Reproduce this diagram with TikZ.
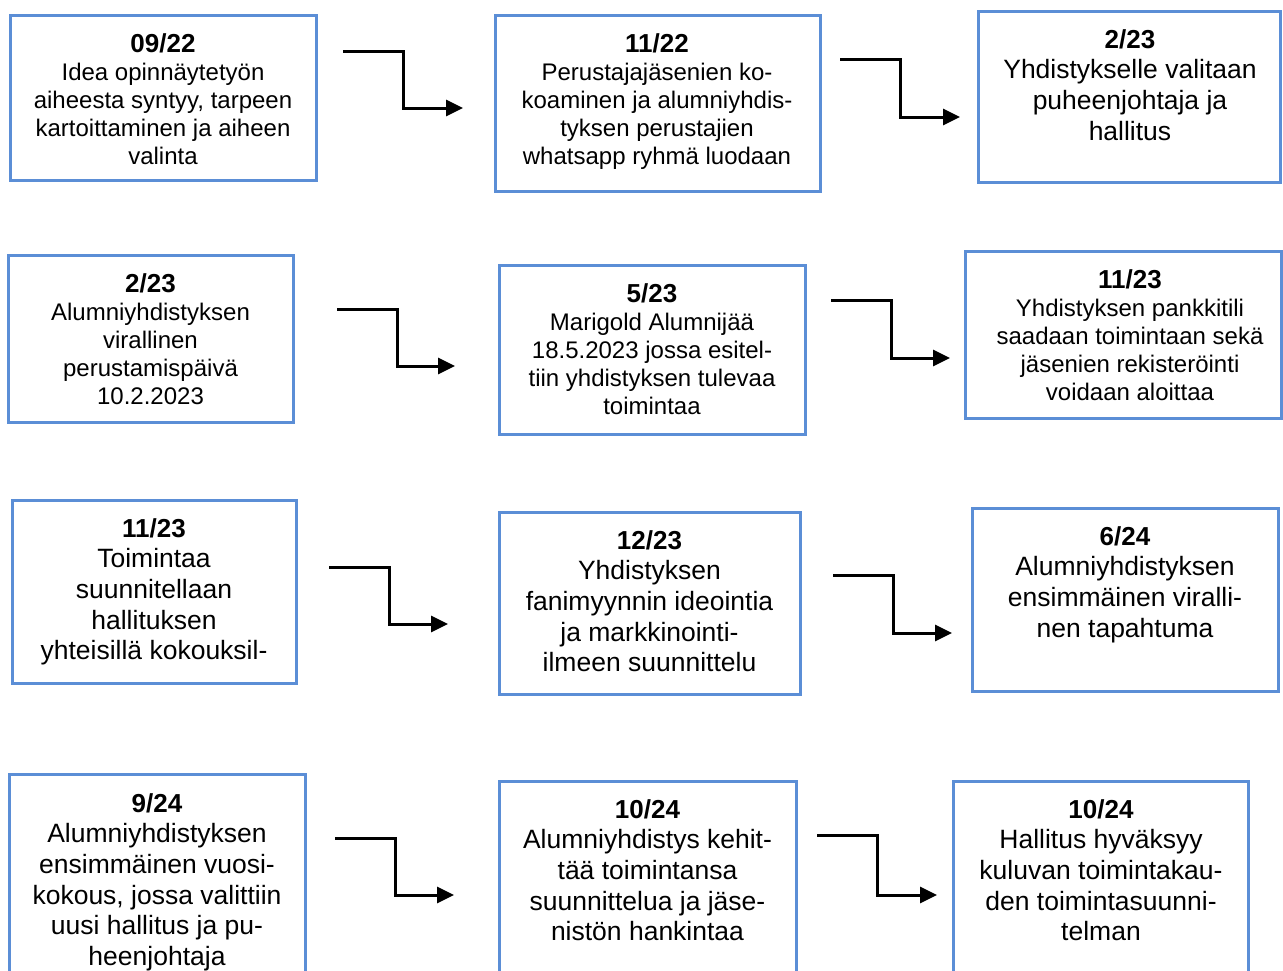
\documentclass[tikz,border=0pt]{standalone}
\usepackage{fontspec}
\setmainfont{Liberation Sans}
\usetikzlibrary{arrows.meta}
\definecolor{boxblue}{RGB}{91,142,214}
\newcommand\smallbody{\fontsize{24}{28}\selectfont}
\newcommand\bigbody{\fontsize{26.5}{30.7}\selectfont}
\newcommand\ttl[1]{{\fontsize{26}{28}\selectfont\bfseries #1}}
\begin{document}
\begin{tikzpicture}[x=1pt,y=-1pt,
  stagebox/.style={draw=boxblue,line width=3pt,fill=white,inner sep=0pt},
  stagetext/.style={anchor=north,align=center,inner sep=0pt},
  smalltext/.style={stagetext,font=\smallbody},
  bigtext/.style={stagetext,font=\bigbody},
  conn/.style={draw=black,line width=3pt,-{Triangle[length=17pt,width=16pt]}}]
\useasboundingbox (0,0) rectangle (1283,970);
\clip (0,0) rectangle (1283,970);
% boxes
\node[stagebox,minimum width=306pt,minimum height=165pt] (b1) at (163,97.5) {};
\node[stagebox,minimum width=325pt,minimum height=176pt] (b2) at (657.5,103) {};
\node[stagebox,minimum width=302pt,minimum height=171pt] (b3) at (1129,96.5) {};
\node[stagebox,minimum width=285pt,minimum height=167pt] (b4) at (150.5,338.5) {};
\node[stagebox,minimum width=306pt,minimum height=169pt] (b5) at (652,349.5) {};
\node[stagebox,minimum width=316pt,minimum height=167pt] (b6) at (1123,334.5) {};
\node[stagebox,minimum width=284pt,minimum height=183pt] (b7) at (154,591.5) {};
\node[stagebox,minimum width=301pt,minimum height=182pt] (b8) at (649.5,603) {};
\node[stagebox,minimum width=306pt,minimum height=183pt] (b9) at (1125,599.5) {};
\node[stagebox,minimum width=296pt,minimum height=226pt] (b10) at (157,887) {};
\node[stagebox,minimum width=297pt,minimum height=219pt] (b11) at (647.5,890.5) {};
\node[stagebox,minimum width=295pt,minimum height=219pt] (b12) at (1100.5,890.5) {};
% texts
\node[smalltext] (t1) at (163,33) {\ttl{09/22}\\Idea opinnäytetyön\\aiheesta syntyy, tarpeen\\kartoittaminen ja aiheen\\valinta};
\node[smalltext] (t2) at (657,33) {\ttl{11/22}\\Perustajajäsenien ko-\\koaminen ja alumniyhdis-\\tyksen perustajien\\whatsapp ryhmä luodaan};
\node[bigtext] (t3) at (1130,29) {\ttl{2/23}\\Yhdistykselle valitaan\\puheenjohtaja ja\\hallitus};
\node[smalltext] (t4) at (150.5,273) {\ttl{2/23}\\Alumniyhdistyksen\\virallinen\\perustamispäivä\\10.2.2023};
\node[smalltext] (t5) at (652,283) {\ttl{5/23}\\Marigold Alumnijää\\18.5.2023 jossa esitel-\\tiin yhdistyksen tulevaa\\toimintaa};
\node[smalltext] (t6) at (1130,269) {\ttl{11/23}\\Yhdistyksen pankkitili\\saadaan toimintaan sekä\\jäsenien rekisteröinti\\voidaan aloittaa};
\node[bigtext] (t7) at (154,518) {\ttl{11/23}\\Toimintaa\\suunnitellaan\\hallituksen\\yhteisillä kokouksil-};
\node[bigtext] (t8) at (649.5,530) {\ttl{12/23}\\Yhdistyksen\\fanimyynnin ideointia\\ja markkinointi-\\ilmeen suunnittelu};
\node[bigtext] (t9) at (1125,526) {\ttl{6/24}\\Alumniyhdistyksen\\ensimmäinen viralli-\\nen tapahtuma};
\node[bigtext] (t10) at (157,793) {\ttl{9/24}\\Alumniyhdistyksen\\ensimmäinen vuosi-\\kokous, jossa valittiin\\uusi hallitus ja pu-\\heenjohtaja};
\node[bigtext] (t11) at (647.5,799) {\ttl{10/24}\\Alumniyhdistys kehit-\\tää toimintansa\\suunnittelua ja jäse-\\nistön hankintaa};
\node[bigtext] (t12) at (1101,799) {\ttl{10/24}\\Hallitus hyväksyy\\kuluvan toimintakau-\\den toimintasuunni-\\telman};
% connector ends
\coordinate (a1s) at (343,51);  \coordinate (a1e) at (463,108);
\coordinate (a2s) at (840,59);  \coordinate (a2e) at (960,117);
\coordinate (a3s) at (337,309); \coordinate (a3e) at (455,366);
\coordinate (a4s) at (831,300); \coordinate (a4e) at (950,358);
\coordinate (a5s) at (329,567); \coordinate (a5e) at (448,624);
\coordinate (a6s) at (833,575); \coordinate (a6e) at (952,633);
\coordinate (a7s) at (335,838); \coordinate (a7e) at (454,895);
\coordinate (a8s) at (817,835); \coordinate (a8e) at (937,895);
\draw[conn] (a1s) -- ++(60,0) |- (a1e);
\draw[conn] (a2s) -- ++(60,0) |- (a2e);
\draw[conn] (a3s) -- ++(60,0) |- (a3e);
\draw[conn] (a4s) -- ++(60,0) |- (a4e);
\draw[conn] (a5s) -- ++(60,0) |- (a5e);
\draw[conn] (a6s) -- ++(60,0) |- (a6e);
\draw[conn] (a7s) -- ++(60,0) |- (a7e);
\draw[conn] (a8s) -- ++(60,0) |- (a8e);
\end{tikzpicture}
\end{document}
